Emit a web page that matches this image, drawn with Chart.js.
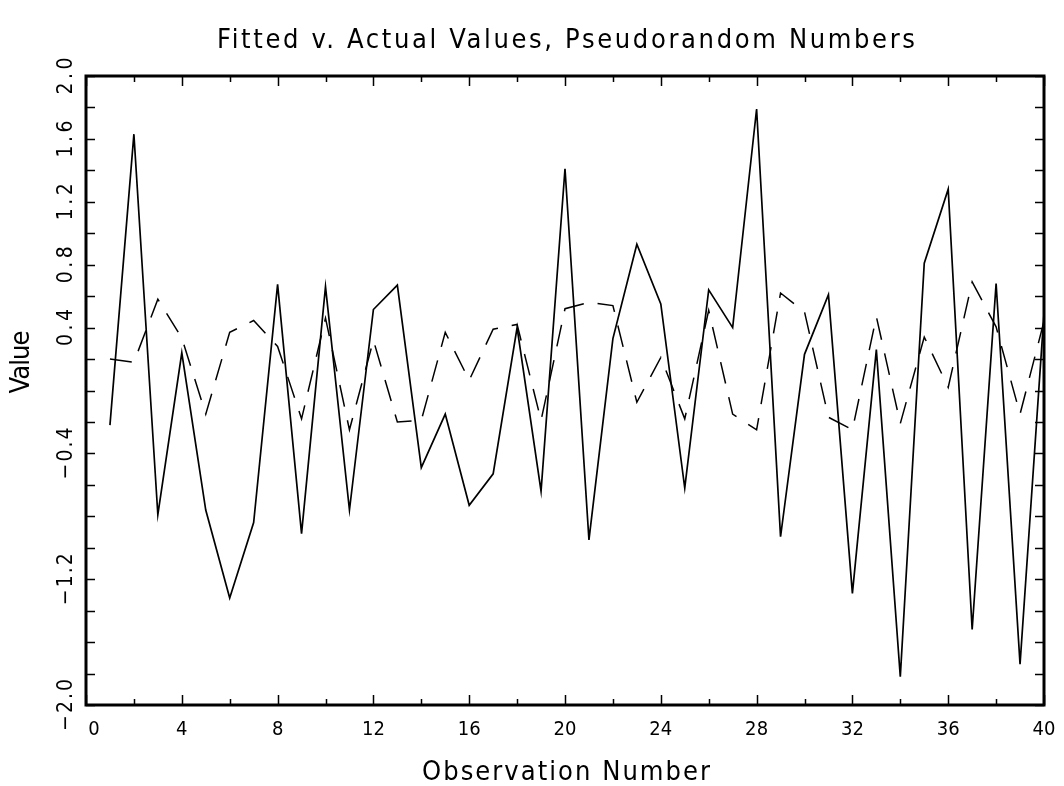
<!DOCTYPE html>
<html>
<head>
<meta charset="utf-8">
<script src="https://cdn.jsdelivr.net/npm/chart.js@4.4.1/dist/chart.umd.min.js"></script>
<style>
  html, body { margin: 0; padding: 0; background: #fff; }
  #wrap { width: 1064px; height: 786px; }
</style>
</head>
<body>
<div id="wrap"><canvas id="chart"></canvas></div>
<script>
// Datos
const observations = [1, 2, 3, 4, 5, 6, 7, 8, 9, 10, 11, 12, 13, 14, 15, 16, 17, 18, 19, 20,
                      21, 22, 23, 24, 25, 26, 27, 28, 29, 30, 31, 32, 33, 34, 35, 36, 37, 38, 39, 40];
const actualValues = [-0.22, 1.63, -0.79, 0.24, -0.76, -1.32, -0.84, 0.675, -0.91, 0.66,
                      -0.76, 0.515, 0.67, -0.49, -0.15, -0.73, -0.53, 0.40, -0.64, 1.41,
                      -0.95, 0.33, 0.93, 0.55, -0.62, 0.64, 0.40, 1.79, -0.93, 0.23,
                      0.61, -1.29, 0.26, -1.82, 0.81, 1.28, -1.52, 0.68, -1.74, 0.49];
const fittedValues = [0.20, 0.18, 0.58, 0.335, -0.15, 0.37, 0.445, 0.28, -0.18, 0.46,
                      -0.25, 0.32, -0.20, -0.19, 0.37, 0.065, 0.39, 0.42, -0.19, 0.52,
                      0.56, 0.54, -0.075, 0.21, -0.18, 0.51, -0.15, -0.25, 0.62, 0.50,
                      -0.17, -0.25, 0.47, -0.21, 0.34, 0.02, 0.69, 0.405, -0.15, 0.44];
const xTickLabels = ['0', '4', '8', '12', '16', '20', '24', '28', '32', '36', '40'];
const yTickLabels = ['2.0', '1.6', '1.2', '0.8', '0.4', '-0.4', '-1.2', '-2.0'];
const titleText = 'Fitted v. Actual Values, Pseudorandom Numbers';
const xTitleText = 'Observation Number';
const yTitleText = 'Value';

const FONT = '"DejaVu Sans Condensed", "DejaVu Sans", sans-serif';

// texto con espaciado ajustado a un ancho dado
function drawSpaced(ctx, text, cx, cy, size, width, angle) {
    ctx.save();
    ctx.translate(cx, cy);
    if (angle) ctx.rotate(angle);
    ctx.font = size + 'px ' + FONT;
    ctx.letterSpacing = '0px';
    const w0 = ctx.measureText(text).width;
    const sp = width ? (width - w0) / Math.max(1, text.length - 1) : 0;
    ctx.letterSpacing = sp + 'px';
    ctx.textAlign = 'left';
    ctx.textBaseline = 'middle';
    ctx.fillStyle = '#000';
    const total = w0 + sp * (text.length - 1);
    ctx.fillText(text, -total / 2, 0);
    ctx.restore();
}

function label(t) {
    return t.replace('-', '\u2212');
}

// marco, marcas hacia dentro y textos
const framePlugin = {
    id: 'frameTicks',
    afterDraw(chart) {
        const ctx = chart.ctx;
        const a = chart.chartArea;
        const xs = chart.scales.x;
        const ys = chart.scales.y;
        ctx.save();
        ctx.strokeStyle = '#000';
        ctx.lineWidth = 1.5;
        ctx.beginPath();
        xs.ticks.forEach(t => {
            const px = Math.round(xs.getPixelForValue(t.value)) + 0.5;
            const len = xTickLabels.includes(String(t.value)) ? 10 : 6;
            ctx.moveTo(px, a.bottom); ctx.lineTo(px, a.bottom - len);
            ctx.moveTo(px, a.top); ctx.lineTo(px, a.top + len);
        });
        ys.ticks.forEach(t => {
            const py = Math.round(ys.getPixelForValue(t.value)) + 0.5;
            ctx.moveTo(a.left, py); ctx.lineTo(a.left + 9, py);
            ctx.moveTo(a.right, py); ctx.lineTo(a.right - 9, py);
        });
        ctx.stroke();
        ctx.lineWidth = 3;
        ctx.strokeRect(a.left, a.top, a.right - a.left, a.bottom - a.top);
        ctx.restore();

        xTickLabels.forEach(s => {
            const px = xs.getPixelForValue(parseFloat(s));
            drawSpaced(ctx, s, px + (s === '0' ? 8 : 0), a.bottom + 25, 20, s.length > 1 ? 23 : 0, 0);
        });
        yTickLabels.forEach(s => {
            const py = ys.getPixelForValue(parseFloat(s));
            drawSpaced(ctx, label(s), a.left - 19, py, 21, s.length > 3 ? 52 : 37, -Math.PI / 2);
        });
        drawSpaced(ctx, titleText, 566, 41, 27, 698, 0);
        drawSpaced(ctx, xTitleText, 566, 773, 27, 288, 0);
        drawSpaced(ctx, yTitleText, 22, 362, 27, 63, -Math.PI / 2);
    }
};

const ctx = document.getElementById('chart').getContext('2d');
new Chart(ctx, {
    type: 'line',
    data: {
        datasets: [
            {
                label: 'Actual',
                data: observations.map((o, i) => ({ x: o, y: actualValues[i] })),
                borderColor: '#000',
                borderWidth: 1.7,
                pointRadius: 0,
                tension: 0
            },
            {
                label: 'Fitted',
                data: observations.map((o, i) => ({ x: o, y: fittedValues[i] })),
                borderColor: '#000',
                borderWidth: 1.5,
                borderDash: [22, 14],
                pointRadius: 0,
                tension: 0
            }
        ]
    },
    options: {
        responsive: true,
        maintainAspectRatio: false,
        animation: false,
        layout: { padding: { left: 86, right: 20, top: 76, bottom: 81 } },
        plugins: { legend: { display: false }, tooltip: { enabled: false } },
        scales: {
            x: {
                type: 'linear', min: 0, max: 40,
                ticks: { display: false, stepSize: 2 },
                grid: { display: false, drawTicks: false },
                border: { display: false }
            },
            y: {
                min: -2, max: 2,
                ticks: { display: false, stepSize: 0.2 },
                grid: { display: false, drawTicks: false },
                border: { display: false }
            }
        }
    },
    plugins: [framePlugin]
});
</script>
</body>
</html>
